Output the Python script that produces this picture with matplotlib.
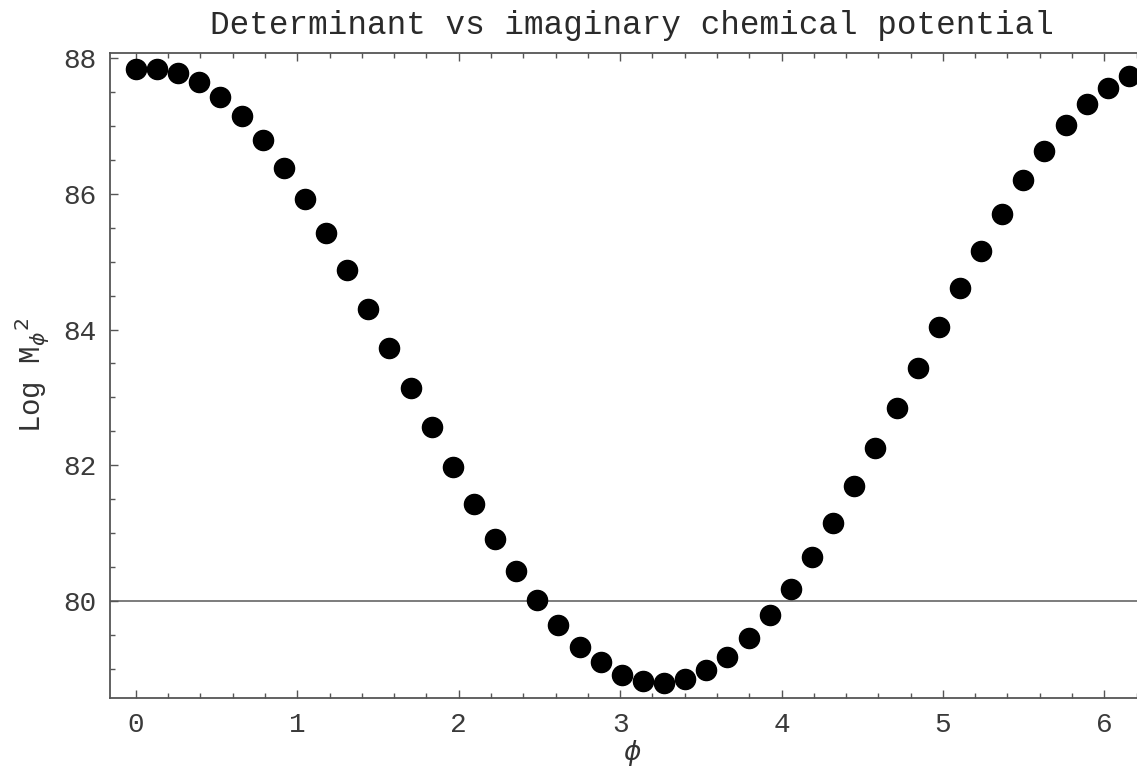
import numpy as np
import matplotlib
matplotlib.use('Agg')
import matplotlib.pyplot as plt
from matplotlib.ticker import MultipleLocator

# phi = k * 2pi/48, k = 0..47
k = np.arange(48)
phi = k * 2 * np.pi / 48
logdet = [87.84, 87.85, 87.79, 87.65, 87.43, 87.15, 86.80, 86.39, 85.93, 85.42,
          84.88, 84.31, 83.73, 83.14, 82.56, 81.98, 81.43, 80.91, 80.44, 80.01,
          79.64, 79.32, 79.09, 78.90, 78.81, 78.78, 78.84, 78.98, 79.17, 79.45,
          79.79, 80.18, 80.65, 81.15, 81.69, 82.26, 82.85, 83.44, 84.04, 84.62,
          85.16, 85.71, 86.20, 86.64, 87.02, 87.33, 87.57, 87.74]

plt.rcParams['font.family'] = ['Liberation Mono', 'DejaVu Sans']
fig = plt.figure(figsize=(11.37, 7.7), dpi=100)
# frame runs a little past the right edge of the picture, like the original
ax = fig.add_axes([0.0967, 0.0935, 0.919, 0.8375])

ax.axhline(80, color='#666666', lw=1.2, zorder=1)
ax.plot(phi, logdet, 'o', color='black', ms=14.5, zorder=3)

ax.set_xlim(-0.161, 6.313)
ax.set_ylim(78.565, 88.078)
ax.xaxis.set_major_locator(MultipleLocator(1))
ax.xaxis.set_minor_locator(MultipleLocator(0.2))
ax.yaxis.set_major_locator(MultipleLocator(2))
ax.yaxis.set_minor_locator(MultipleLocator(0.5))
ax.tick_params(which='both', direction='in', top=True, right=True,
               color='#555555', labelcolor='#3a3a3a', labelsize=20, width=1)
ax.tick_params(which='major', length=6, pad=10)
ax.tick_params(which='minor', length=3.5)
for s in ax.spines.values():
    s.set_color('#555555')
    s.set_linewidth(1.3)

ax.set_title('Determinant vs imaginary chemical potential', fontsize=23.5,
             color='#2a2a2a', pad=14)
ax.set_xlabel(r'$\phi$', fontsize=19, color='#333333', labelpad=0)
ax.set_ylabel(r'Log M$_{\phi}$$^{2}$', fontsize=21, color='#333333', labelpad=8)

fig.savefig('out.png', dpi=100)
